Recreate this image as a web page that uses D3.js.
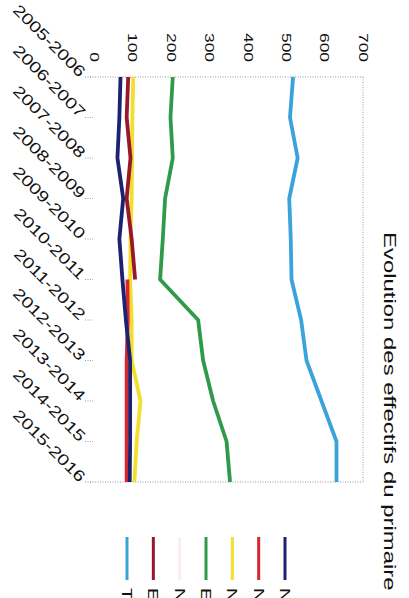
<!DOCTYPE html>
<html lang="fr">
<head>
<meta charset="utf-8">
<title>Evolution des effectifs du primaire</title>
<style>
body { margin:0; background:#fff; }
svg { display:block; font-family:"Liberation Sans", Arial, sans-serif; }
.grid { stroke:#999; stroke-width:1; stroke-dasharray:1,1.5; fill:none; }
.line { fill:none; stroke-width:3.8; stroke-linejoin:round; }
</style>
</head>
<body>
<svg width="409" height="598"></svg>
<script src="https://cdn.jsdelivr.net/npm/d3@7"></script>
<script>

var years = ["2005-2006","2006-2007","2007-2008","2008-2009","2009-2010","2010-2011",
             "2011-2012","2012-2013","2013-2014","2014-2015","2015-2016"];
var valueTicks = [0,100,200,300,400,500,600,700];

var total     = [518,510,530,508,512,514,539,553,592,631,631];
var ecoleB    = [205,199,205,185,179,172,271,284,310,345,354];
var nordOuest = [69,66,61,76,66,74,83,94,94,94,93];
var ecoleA    = [89,85,95,85,98,107,null,null,null,null,null];
var nord      = [102,100,99,98,95,94,98,98,121,111,105];
var nordEst   = [null,null,null,null,null,87,88,85,85,85,85];
var nouvelle  = [null,null,null,null,null,null,null,90,90,90,90];

// legend order, left to right in the picture
var series = [
  {name:"Total",          values:total,     color:"#3ba3dc"},
  {name:"Ecole A",        values:ecoleA,    color:"#96182a"},
  {name:"Nouvelle école", values:nouvelle,  color:"#fbeef3"},
  {name:"Ecole B",        values:ecoleB,    color:"#2f9a4a"},
  {name:"Nord",           values:nord,      color:"#f3df2b"},
  {name:"Nord-Est",       values:nordEst,   color:"#d8262f"},
  {name:"Nord-Ouest",     values:nordOuest, color:"#1b2270"}
];
var drawOrder = [2,0,3,4,5,6,1];

var svg = d3.select("svg");

// chart is turned a quarter turn: values run left to right, years top to bottom
var x = d3.scaleLinear().domain([0,700]).range([94,363]);
var y = d3.scalePoint().domain(years).range([77,482]);

// dotted frame
svg.append("line").attr("class","grid").attr("x1",90).attr("x2",365).attr("y1",y(years[0])).attr("y2",y(years[0]));
svg.append("line").attr("class","grid").attr("x1",90).attr("x2",365).attr("y1",y(years[10])).attr("y2",y(years[10]));
svg.append("line").attr("class","grid").attr("x1",x(700)).attr("x2",x(700)).attr("y1",y(years[0])).attr("y2",y(years[10]));

// year ticks
svg.selectAll(".ytick").data(years).enter().append("line")
  .attr("class","grid")
  .attr("x1",85).attr("x2",93)
  .attr("y1",function(d){ return y(d); })
  .attr("y2",function(d){ return y(d); });

// value tick labels
svg.selectAll(".vlabel").data(valueTicks).enter().append("text")
  .attr("transform",function(d){ return "translate(" + x(d) + ",62) rotate(90) scale(1.45,1)"; })
  .attr("text-anchor","end")
  .attr("dy","0.35em")
  .style("font-size","12px")
  .attr("fill","#111")
  .text(function(d){ return d; });

// year labels
svg.selectAll(".ylabel").data(years).enter().append("text")
  .attr("transform",function(d){ return "translate(79," + (y(d)+1) + ") rotate(45) scale(1.28,1)"; })
  .attr("text-anchor","end")
  .style("font-size","15.5px")
  .attr("fill","#111")
  .text(function(d){ return d; });

var line = d3.line()
  .defined(function(d){ return d != null; })
  .x(function(d){ return x(d); })
  .y(function(d,i){ return y(years[i]); });

drawOrder.forEach(function(k){
  var s = series[k];
  svg.append("path")
    .attr("class","line")
    .attr("stroke",s.color)
    .attr("d",line(s.values));
});

// title
svg.append("text")
  .attr("transform","translate(384,232) rotate(90) scale(1.45,1)")
  .style("font-size","16.5px")
  .attr("fill","#111")
  .text("Evolution des effectifs du primaire");

// legend
var lx = d3.scalePoint().domain(series.map(function(d){ return d.name; })).range([127,285]);
var leg = svg.selectAll(".leg").data(series).enter().append("g")
  .attr("transform",function(d){ return "translate(" + lx(d.name) + ",0)"; });
leg.append("line")
  .attr("y1",537).attr("y2",580)
  .attr("stroke",function(d){ return d.color; })
  .attr("stroke-width",3);
leg.append("text")
  .attr("transform","translate(0,588) rotate(90) scale(1.4,1)")
  .attr("dy","0.35em")
  .style("font-size","14px")
  .attr("fill","#111")
  .text(function(d){ return d.name; });

</script>
</body>
</html>
